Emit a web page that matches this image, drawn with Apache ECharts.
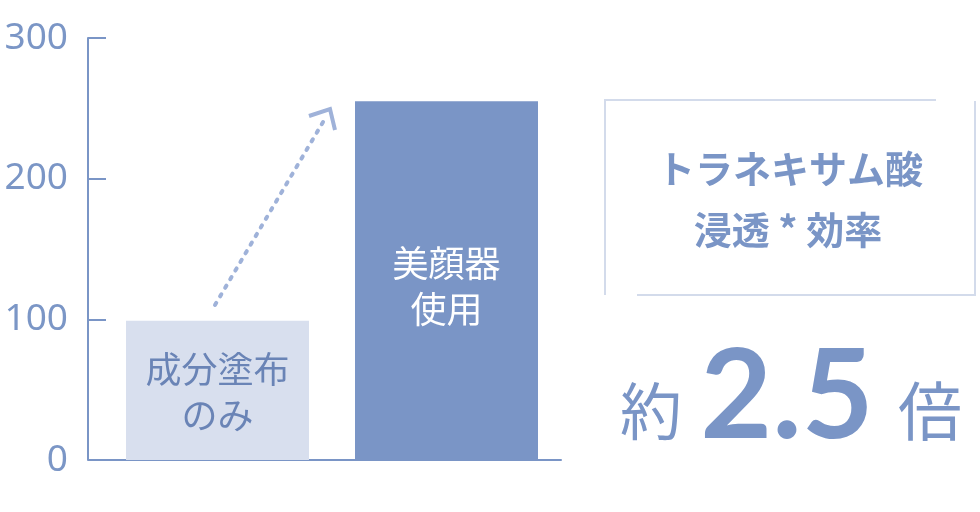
<!DOCTYPE html>
<html lang="ja">
<head>
    <meta charset="UTF-8">
    <title>トラネキサム酸 浸透効率</title>
    <script src="https://cdn.jsdelivr.net/npm/echarts@6/dist/echarts.min.js"></script>
    <style>
        html, body { margin: 0; padding: 0; background: #fff; }
        #main { width: 980px; height: 512px; }
    </style>
</head>
<body>
<div id="main"></div>
<script type="text/javascript">
    // data
    var categories = ['成分塗布\nのみ', '美顔器\n使用'];
    var values = [99, 255];
    var yTicks = [0, 100, 200, 300];

    var barColors = ['#d8dfee', '#7a95c6'];
    var labelColors = ['#6a84b6', '#ffffff'];
    var blue = '#7a95c6';
    var jp = '"Noto Sans CJK JP", "Noto Sans", sans-serif';

    var chart = echarts.init(document.getElementById('main'));

    var option = {
        animation: false,
        grid: { left: 103, top: 38, width: 458, bottom: 52 },
        xAxis: {
            type: 'category',
            data: categories,
            axisLine: { lineStyle: { color: blue, width: 2 } },
            axisTick: { show: false },
            axisLabel: { show: false }
        },
        yAxis: {
            type: 'value',
            min: yTicks[0],
            max: yTicks[yTicks.length - 1],
            interval: 100,
            offset: 15,
            splitLine: { show: false },
            axisLine: { show: true, lineStyle: { color: blue, width: 2 } },
            axisTick: { show: true, inside: true, length: 18, lineStyle: { color: blue, width: 2 } },
            axisLabel: {
                margin: 20,
                color: '#7b96c6',
                fontSize: 37,
                fontFamily: '"Noto Sans", sans-serif'
            }
        },
        series: [{
            type: 'bar',
            barWidth: 183,
            data: values.map(function (v, i) {
                return {
                    value: v,
                    itemStyle: { color: barColors[i] },
                    label: {
                        show: true,
                        position: 'inside',
                        offset: [0, i === 1 ? 6 : 2],
                        formatter: categories[i],
                        color: labelColors[i],
                        fontSize: 36,
                        lineHeight: 46,
                        fontFamily: jp
                    }
                };
            })
        }],
        graphic: [
            // baseline stub left of first category
            { type: 'line', shape: { x1: 88, y1: 460, x2: 104, y2: 460 }, style: { stroke: blue, lineWidth: 2 } },
            // dotted arrow
            {
                type: 'line',
                shape: { x1: 215, y1: 305, x2: 326, y2: 117 },
                style: { stroke: '#9fb2d9', lineWidth: 4, lineDash: [2.5, 7.5], lineCap: 'round' }
            },
            {
                type: 'polyline',
                shape: { points: [[309, 116], [330, 109], [335, 130]] },
                style: { stroke: '#9fb2d9', lineWidth: 4, fill: null }
            },
            // frame
            { type: 'polyline', shape: { points: [[936, 100], [605, 100], [605, 295]] }, style: { stroke: '#d3dbeb', lineWidth: 2, fill: null } },
            { type: 'polyline', shape: { points: [[975, 101], [975, 295], [637, 295]] }, style: { stroke: '#d3dbeb', lineWidth: 2, fill: null } },
            {
                type: 'text', x: 790, y: 169,
                style: { text: 'トラネキサム酸', fill: blue, font: 'bold 38px ' + jp, textAlign: 'center', textVerticalAlign: 'middle' }
            },
            {
                type: 'text', x: 788, y: 230,
                style: { text: '浸透 * 効率', fill: blue, font: 'bold 38px ' + jp, textAlign: 'center', textVerticalAlign: 'middle' }
            },
            {
                type: 'text', x: 651, y: 411,
                style: { text: '約', fill: blue, font: '62px ' + jp, textAlign: 'center', textVerticalAlign: 'middle' }
            },
            {
                type: 'text', x: 787, y: 398,
                style: { text: '2.5', fill: blue, font: 'bold 124px Lato, sans-serif', textAlign: 'center', textVerticalAlign: 'middle' }
            },
            {
                type: 'text', x: 930, y: 411,
                style: { text: '倍', fill: blue, font: '64px ' + jp, textAlign: 'center', textVerticalAlign: 'middle' }
            }
        ]
    };
    chart.setOption(option);
</script>
</body>
</html>
